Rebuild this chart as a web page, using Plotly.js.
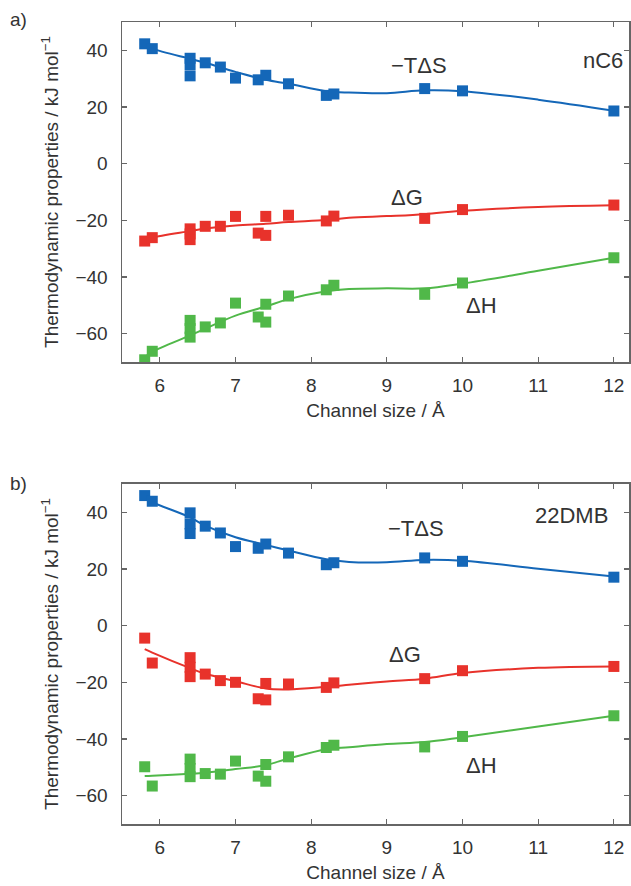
<!DOCTYPE html>
<html>
<head>
<meta charset="utf-8">
<script src="https://cdn.plot.ly/plotly-3.0.1.min.js"></script>
<style>html,body{margin:0;padding:0;background:#fff;}</style>
</head>
<body>
<div id="chart" style="width:631px;height:886px;"></div>
<script>
// ---- data ----
const xBlue = [5.8, 5.9, 6.4, 6.4, 6.4, 6.6, 6.8, 7.0, 7.3, 7.4, 7.7, 8.2, 8.3, 9.5, 10, 12];
const xRedGreen = [5.8, 5.9, 6.4, 6.4, 6.4, 6.6, 6.8, 7.0, 7.3, 7.4, 7.4, 7.7, 8.2, 8.3, 9.5, 10, 12];

// panel a) nC6
const tdsA = [42.3, 40.6, 37.2, 35.0, 31.0, 35.6, 34.1, 30.2, 29.6, 31.2, 28.2, 24.1, 24.6, 26.5, 25.7, 18.6];
const dgA = [-27.3, -26.1, -23.0, -24.8, -26.8, -22.1, -22.1, -18.6, -24.5, -25.3, -18.6, -18.2, -20.2, -18.5, -19.3, -16.2, -14.6];
const dhA = [-69.2, -66.2, -55.3, -58.2, -61.2, -57.6, -56.2, -49.2, -54.1, -55.9, -49.6, -46.7, -44.5, -42.9, -46.1, -42.1, -33.2];

// panel b) 22DMB
const tdsB = [45.9, 43.9, 39.8, 35.9, 32.5, 35.1, 32.7, 27.9, 27.3, 28.8, 25.6, 21.5, 22.2, 23.9, 22.7, 17.1];
const dgB = [-4.4, -13.2, -11.3, -14.7, -18.0, -17.1, -19.4, -20.0, -25.8, -26.2, -20.4, -20.6, -21.8, -20.2, -18.7, -15.9, -14.4];
const dhB = [-49.8, -56.6, -47.1, -50.4, -53.3, -52.2, -52.4, -47.8, -53.1, -54.9, -49.0, -46.3, -43.0, -42.2, -42.8, -39.1, -31.8];

// fitted curves
const fitX = [5.8, 5.9, 6.4, 6.6, 7.0, 7.4, 7.7, 8.2, 8.5, 9.0, 9.5, 10, 11, 12];
const fitTdsA = [41.8, 40.6, 37.0, 35.6, 32.4, 29.6, 28.2, 25.6, 25.1, 24.9, 25.9, 25.6, 22.6, 18.7];
const fitDgA = [-27.6, -26.2, -23.8, -22.9, -21.8, -21.2, -20.6, -19.9, -19.1, -18.5, -17.8, -16.6, -15.3, -14.7];
const fitDhA = [-68.4, -66.4, -60.6, -58.2, -53.6, -50.4, -47.8, -45.0, -44.2, -44.0, -44.0, -42.3, -37.8, -33.2];
const fitTdsB = [45.2, 43.6, 38.2, 35.3, 31.2, 28.5, 26.5, 23.4, 22.5, 22.4, 23.2, 22.9, 20.1, 17.3];
const fitDgB = [-8.3, -9.5, -15.0, -17.0, -19.6, -22.2, -22.5, -21.6, -20.9, -19.7, -18.7, -16.7, -14.9, -14.4];
const fitDhB = [-53.1, -53.0, -52.3, -51.9, -50.6, -49.2, -46.9, -43.6, -42.9, -41.8, -41.1, -39.4, -35.6, -31.8];

const xTicks = [6, 7, 8, 9, 10, 11, 12];
const yTicks = [-60, -40, -20, 0, 20, 40];

// ---- styles ----
const BLUE = '#1467b8', RED = '#e8322b', GREEN = '#50b849';
const FONT = 'Liberation Sans, Arial, Helvetica, sans-serif';
const TXT = '#333333';

function pts(x, y, color, xa, ya) {
  return {x: x, y: y, xaxis: xa, yaxis: ya, mode: 'markers', type: 'scatter',
    marker: {symbol: 'square', size: 11, color: color}, hoverinfo: 'x+y', showlegend: false};
}
function fit(x, y, color, xa, ya) {
  return {x: x, y: y, xaxis: xa, yaxis: ya, mode: 'lines', type: 'scatter',
    line: {color: color, width: 2, shape: 'spline', smoothing: 1}, hoverinfo: 'skip', showlegend: false};
}

const traces = [
  fit(fitX, fitTdsA, BLUE, 'x', 'y'), fit(fitX, fitDgA, RED, 'x', 'y'), fit(fitX, fitDhA, GREEN, 'x', 'y'),
  pts(xBlue, tdsA, BLUE, 'x', 'y'), pts(xRedGreen, dgA, RED, 'x', 'y'), pts(xRedGreen, dhA, GREEN, 'x', 'y'),
  fit(fitX, fitTdsB, BLUE, 'x2', 'y2'), fit(fitX, fitDgB, RED, 'x2', 'y2'), fit(fitX, fitDhB, GREEN, 'x2', 'y2'),
  pts(xBlue, tdsB, BLUE, 'x2', 'y2'), pts(xRedGreen, dgB, RED, 'x2', 'y2'), pts(xRedGreen, dhB, GREEN, 'x2', 'y2')
];

function xAxis(anchor) {
  return {anchor: anchor, range: [5.5, 12.2], tickvals: xTicks, ticks: 'inside', ticklen: 5, tickwidth: 1.2,
    tickcolor: '#666', showline: true, linecolor: '#666', linewidth: 1.5, mirror: 'ticks',
    showgrid: false, zeroline: false, ticklabelstandoff: 6,
    tickfont: {family: FONT, size: 19, color: TXT},
    title: {text: 'Channel size / Å', font: {family: FONT, size: 19, color: TXT}, standoff: 8}};
}
function yAxis(anchor, domain) {
  return {anchor: anchor, domain: domain, range: [-70, 50], tickvals: yTicks, ticks: 'inside', ticklen: 5, tickwidth: 1.2,
    tickcolor: '#666', showline: true, linecolor: '#666', linewidth: 1.5, mirror: 'ticks',
    showgrid: false, zeroline: false, ticklabelstandoff: 9,
    tickfont: {family: FONT, size: 19, color: TXT},
    title: {text: 'Thermodynamic properties / kJ mol<sup>−1</sup>', font: {family: FONT, size: 19, color: TXT}, standoff: 12}};
}

function note(text, x, y, xr, yr, extra) {
  return Object.assign({text: text, x: x, y: y, xref: xr, yref: yr, showarrow: false,
    font: {family: FONT, size: 22, color: TXT}}, extra || {});
}

const layout = {
  width: 631, height: 886,
  margin: {l: 122, r: 2, t: 22, b: 62},
  paper_bgcolor: '#ffffff', plot_bgcolor: '#ffffff',
  xaxis: xAxis('y'),
  yaxis: yAxis('x', [0.576, 1]),
  xaxis2: xAxis('y2'),
  yaxis2: yAxis('x2', [0, 0.424]),
  annotations: [
    note('−TΔS', 9.42, 34.7, 'x', 'y'),
    note('nC6', 11.85, 36.5, 'x', 'y'),
    note('ΔG', 9.26, -11.8, 'x', 'y'),
    note('ΔH', 10.25, -50, 'x', 'y'),
    note('−TΔS', 9.39, 34.4, 'x2', 'y2'),
    note('22DMB', 11.44, 39, 'x2', 'y2'),
    note('ΔG', 9.24, -10.2, 'x2', 'y2'),
    note('ΔH', 10.25, -49.5, 'x2', 'y2'),
    note('a)', -0.225, 1.0025, 'paper', 'paper', {xanchor: 'left', yanchor: 'middle', font: {family: FONT, size: 19, color: TXT}}),
    note('b)', -0.225, 0.424, 'paper', 'paper', {xanchor: 'left', yanchor: 'middle', font: {family: FONT, size: 19, color: TXT}})
  ]
};

Plotly.newPlot('chart', traces, layout, {staticPlot: true, displayModeBar: false});
</script>
</body>
</html>
